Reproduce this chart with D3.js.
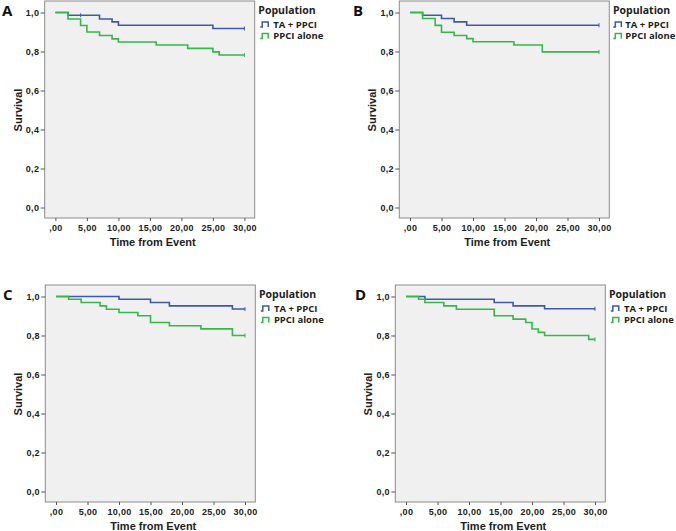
<!DOCTYPE html>
<html>
<head>
<meta charset="utf-8">
<script src="https://cdn.jsdelivr.net/npm/d3@7"></script>
<style>
  html, body { margin: 0; padding: 0; background: #ffffff; }
  svg { display: block; }
</style>
</head>
<body>
<svg id="chart" width="676" height="531"></svg>
<script>
// ---------------- DATA ----------------
const panelLabels = ["A", "B", "C", "D"];
const seriesNames = ["TA + PPCI", "PPCI alone"];
const legendTitle = "Population";
const xTickValues = [0, 5, 10, 15, 20, 25, 30];
const yTickValues = [0, 0.2, 0.4, 0.6, 0.8, 1.0];
const xTitle = "Time from Event";
const yTitle = "Survival";
const endTime = 30;

// Panel A
const A_TA_time   = [0, 2, 7, 9, 10, 25];
const A_TA_surv   = [1, 0.986, 0.967, 0.952, 0.935, 0.918];
const A_PPCI_time = [0, 2, 4, 5, 7, 9, 10, 16, 21, 25, 26];
const A_PPCI_surv = [1, 0.967, 0.933, 0.900, 0.882, 0.865, 0.849, 0.833, 0.816, 0.798, 0.782];
const A_TA_censor = [4];
// Panel B
const B_TA_time   = [0, 2, 5, 7, 9];
const B_TA_surv   = [1, 0.986, 0.969, 0.952, 0.935];
const B_PPCI_time = [0, 2, 4, 5, 7, 9, 10, 16.5, 21];
const B_PPCI_surv = [1, 0.969, 0.934, 0.899, 0.882, 0.866, 0.850, 0.833, 0.798];
// Panel C
const C_TA_time   = [0, 10, 15, 18, 28];
const C_TA_surv   = [1, 0.986, 0.969, 0.952, 0.936];
const C_PPCI_time = [0, 2, 4, 7, 8, 10, 13, 15, 18, 23, 28];
const C_PPCI_surv = [1, 0.986, 0.969, 0.952, 0.935, 0.918, 0.901, 0.867, 0.850, 0.834, 0.800];
// Panel D
const D_TA_time   = [0, 3, 14, 17, 22];
const D_TA_surv   = [1, 0.986, 0.969, 0.952, 0.937];
const D_PPCI_time = [0, 2, 3, 6, 8, 14, 17, 19, 20, 21, 22, 29];
const D_PPCI_surv = [1, 0.986, 0.969, 0.952, 0.935, 0.901, 0.884, 0.867, 0.833, 0.816, 0.800, 0.780];

const panelData = {
  A: { ta: [A_TA_time, A_TA_surv], ppci: [A_PPCI_time, A_PPCI_surv], taCensor: A_TA_censor },
  B: { ta: [B_TA_time, B_TA_surv], ppci: [B_PPCI_time, B_PPCI_surv], taCensor: [] },
  C: { ta: [C_TA_time, C_TA_surv], ppci: [C_PPCI_time, C_PPCI_surv], taCensor: [] },
  D: { ta: [D_TA_time, D_TA_surv], ppci: [D_PPCI_time, D_PPCI_surv], taCensor: [] }
};

// ---------------- LAYOUT / STYLE ----------------
const layout = {
  A: { left: 44.7, top: 1,   letterX: 2,   legSym: 5.5, legText: 18.6 },
  B: { left: 399.3, top: 1,  letterX: 353, legSym: 4.0, legText: 16.0 },
  C: { left: 45.3, top: 285, letterX: 3,   legSym: 5.5, legText: 18.6 },
  D: { left: 395.3, top: 285, letterX: 355, legSym: 5.5, legText: 18.6 }
};
const frameW = 210, frameH = 217;
const colors = ["#3E58AC", "#34B84A"];
const axisFont = "'Liberation Sans', Arial, sans-serif";
const legendFont = "'Open Sans', 'Noto Sans', sans-serif";

const svg = d3.select("#chart");

function fmtX(v) { return v === 0 ? ",00" : v.toFixed(2).replace(".", ","); }
function fmtY(v) { return v.toFixed(1).replace(".", ","); }

panelLabels.forEach(id => {
  const L = layout[id];
  const D = panelData[id];
  const g = svg.append("g");

  const x = d3.scaleLinear().domain([0, 30]).range([L.left + 10.7, L.left + 199.7]);
  const y = d3.scaleLinear().domain([0, 1]).range([L.top + 206.5, L.top + 11.5]);

  // frame
  g.append("rect")
    .attr("x", L.left).attr("y", L.top)
    .attr("width", frameW).attr("height", frameH)
    .attr("fill", "#f0f0f0")
    .attr("stroke", "#8c8c8c").attr("stroke-width", 1);

  // y axis
  const ya = g.append("g")
    .attr("transform", `translate(${L.left},0)`)
    .call(d3.axisLeft(y).tickValues(yTickValues).tickFormat(fmtY).tickSize(4).tickPadding(1.5));
  ya.select(".domain").remove();
  ya.selectAll("line").attr("stroke", "#555");
  ya.selectAll("text")
    .attr("font-family", axisFont).attr("font-size", 9).attr("font-weight", "bold")
    .attr("fill", "#222").attr("letter-spacing", 0.3);

  // x axis
  const xa = g.append("g")
    .attr("transform", `translate(0,${L.top + frameH})`)
    .call(d3.axisBottom(x).tickValues(xTickValues).tickFormat(fmtX).tickSize(3).tickPadding(4));
  xa.select(".domain").remove();
  xa.selectAll("line").attr("stroke", "#555");
  xa.selectAll("text")
    .attr("font-family", axisFont).attr("font-size", 9).attr("font-weight", "bold")
    .attr("fill", "#222").attr("letter-spacing", 0.3);

  // axis titles
  g.append("text")
    .attr("x", L.left + 108).attr("y", L.top + frameH + 27.5)
    .attr("text-anchor", "middle")
    .attr("font-family", axisFont).attr("font-size", 11).attr("font-weight", "bold")
    .attr("fill", "#222")
    .text(xTitle);
  g.append("text")
    .attr("transform", `translate(${L.left - 23},${(y(0) + y(1)) / 2}) rotate(-90)`)
    .attr("text-anchor", "middle")
    .attr("font-family", axisFont).attr("font-size", 11).attr("font-weight", "bold")
    .attr("fill", "#222")
    .text(yTitle);

  // panel letter
  g.append("text")
    .attr("x", L.letterX).attr("y", L.top + 15)
    .attr("font-family", legendFont).attr("font-size", 15).attr("font-weight", "bold")
    .attr("fill", "#111")
    .text(id);

  // curves
  const line = d3.line().x(d => x(d[0])).y(d => y(d[1])).curve(d3.curveStepAfter);
  [D.ta, D.ppci].forEach((s, i) => {
    const pts = s[0].map((t, k) => [t, s[1][k]]);
    const last = s[1][s[1].length - 1];
    pts.push([endTime, last]);
    g.append("path")
      .attr("d", line(pts))
      .attr("fill", "none")
      .attr("stroke", colors[i]).attr("stroke-width", 1.6);
    // end censor mark
    g.append("line")
      .attr("x1", x(endTime)).attr("x2", x(endTime))
      .attr("y1", y(last) - 2).attr("y2", y(last) + 2)
      .attr("stroke", colors[i]).attr("stroke-width", 1);
  });
  // interior censor marks (TA)
  D.taCensor.forEach(t => {
    const s = D.ta;
    let v = s[1][0];
    s[0].forEach((tt, k) => { if (tt <= t) v = s[1][k]; });
    g.append("line")
      .attr("x1", x(t)).attr("x2", x(t))
      .attr("y1", y(v) - 2).attr("y2", y(v) + 2)
      .attr("stroke", colors[0]).attr("stroke-width", 1);
  });

  // legend
  const lx = L.left + frameW;
  g.append("text")
    .attr("x", lx + 3.6).attr("y", L.top + 12.5)
    .attr("font-family", legendFont).attr("font-size", 10.5).attr("font-weight", "bold")
    .attr("fill", "#222")
    .text(legendTitle);
  seriesNames.forEach((name, i) => {
    const cy = L.top + 23.5 + i * 11.5;
    const sx = lx + L.legSym;
    g.append("path")
      .attr("d", `M${sx},${cy + 2.5} H${sx + 2} V${cy - 2.5} H${sx + 8} V${cy + 2.5}`)
      .attr("fill", "none").attr("stroke", colors[i]).attr("stroke-width", 1.5);
    g.append("text")
      .attr("x", lx + L.legText).attr("y", cy + 3.3)
      .attr("font-family", legendFont).attr("font-size", 9.5).attr("font-weight", "bold")
      .attr("fill", "#222")
      .text(name);
  });
});
</script>
</body>
</html>
